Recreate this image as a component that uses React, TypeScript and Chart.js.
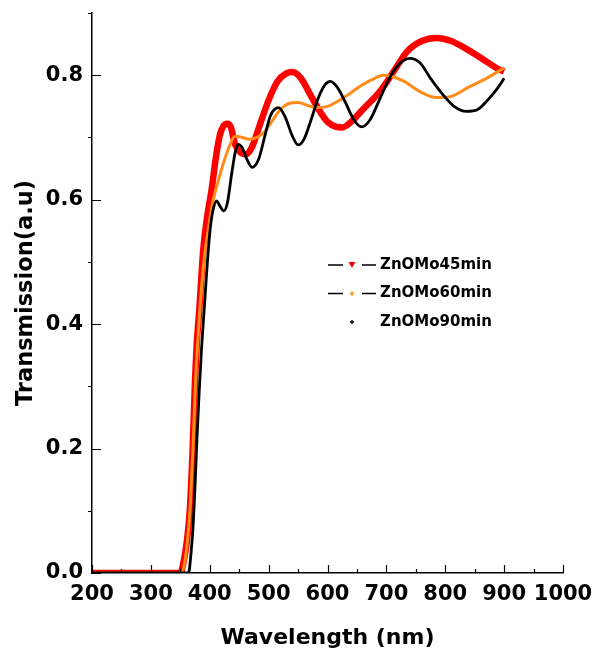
import React, { useEffect, useRef } from "react";
import { Chart, registerables } from "chart.js";

Chart.register(...registerables);

// ---- data ----
const SERIES_NAMES = ["ZnOMo45min", "ZnOMo60min", "ZnOMo90min"];

const red45X = [200, 250, 300, 340, 350, 356, 361, 366, 371, 375, 378, 382, 389, 396, 403, 410, 417, 423, 430, 436, 443, 452, 462, 472, 485, 500, 515, 530, 540, 555, 570, 585, 600, 615, 625, 640, 660, 690, 715, 735, 760, 785, 810, 840, 865, 890, 900];
const red45Y = [0, 0, 0, 0, 0, 0.02, 0.05, 0.10, 0.20, 0.31, 0.37, 0.42, 0.52, 0.575, 0.615, 0.665, 0.703, 0.718, 0.722, 0.716, 0.689, 0.676, 0.673, 0.685, 0.72, 0.76, 0.79, 0.803, 0.805, 0.795, 0.77, 0.745, 0.725, 0.717, 0.716, 0.725, 0.745, 0.775, 0.81, 0.838, 0.855, 0.86, 0.855, 0.84, 0.825, 0.81, 0.806];

const orange60X = [200, 250, 300, 345, 352, 358, 363, 367, 372, 376, 383, 390, 398, 406, 415, 423, 433, 443, 455, 467, 480, 492, 505, 520, 536, 550, 565, 581, 600, 621, 640, 660, 680, 695, 710, 730, 760, 785, 810, 842, 870, 900];
const orange60Y = [0, 0, 0, 0, 0, 0.02, 0.06, 0.11, 0.21, 0.31, 0.42, 0.50, 0.555, 0.60, 0.632, 0.658, 0.685, 0.702, 0.70, 0.697, 0.70, 0.708, 0.725, 0.745, 0.755, 0.756, 0.752, 0.748, 0.75, 0.76, 0.772, 0.785, 0.795, 0.80, 0.798, 0.79, 0.772, 0.764, 0.766, 0.782, 0.795, 0.812];

const black90X = [200, 250, 300, 355, 364, 368, 372, 375, 378, 382, 386, 391, 396, 401, 406, 412, 417, 424, 430, 437, 443, 448, 455, 463, 472, 483, 493, 503, 510, 517, 528, 540, 550, 560, 572, 585, 596, 605, 617, 630, 645, 658, 672, 688, 705, 722, 740, 757, 775, 795, 815, 836, 855, 872, 888, 900];
const black90Y = [0, 0, 0, 0, 0, 0.03, 0.08, 0.14, 0.21, 0.29, 0.36, 0.43, 0.50, 0.555, 0.585, 0.598, 0.59, 0.582, 0.595, 0.64, 0.675, 0.689, 0.684, 0.665, 0.652, 0.665, 0.70, 0.735, 0.745, 0.748, 0.733, 0.703, 0.688, 0.697, 0.728, 0.765, 0.785, 0.79, 0.78, 0.757, 0.728, 0.717, 0.728, 0.76, 0.795, 0.818, 0.827, 0.82, 0.795, 0.77, 0.75, 0.742, 0.745, 0.76, 0.778, 0.795];

const X_MIN = 200;
const X_MAX = 1000;
const X_STEP = 100;
const Y_MIN = 0;
const Y_MAX = 0.9;
const Y_STEP = 0.2;

const FONT = '"DejaVu Sans", Verdana, sans-serif';

function toPoints(xs: number[], ys: number[]) {
  return xs.map((x, i) => ({ x, y: ys[i] }));
}

// inward/outward tick marks like the original plotting software
const tickPlugin = {
  id: "originTicks",
  afterDraw(chart: any) {
    const ctx = chart.ctx;
    const xs = chart.scales.x;
    const ys = chart.scales.y;
    const { left, bottom } = chart.chartArea;
    ctx.save();
    ctx.strokeStyle = "#000";
    ctx.lineWidth = 1.2;
    ctx.beginPath();
    for (let v = X_MIN; v <= X_MAX; v += 50) {
      const px = Math.round(xs.getPixelForValue(v)) + 0.5;
      const len = v % 100 === 0 ? 8 : 4;
      ctx.moveTo(px, bottom);
      ctx.lineTo(px, bottom - len);
    }
    for (let k = 0; k <= 9; k++) {
      const v = k / 10;
      const py = Math.round(ys.getPixelForValue(v)) + 0.5;
      if (k % 2 === 0) {
        ctx.moveTo(left, py);
        ctx.lineTo(left + 9, py);
      } else {
        ctx.moveTo(left, py);
        ctx.lineTo(left - 4, py);
      }
    }
    ctx.stroke();
    ctx.restore();
  },
};

const legendPlugin = {
  id: "customLegend",
  afterDraw(chart: any) {
    const ctx = chart.ctx;
    const rowsY = [265, 293.5, 322];
    const markerX = 352;
    const textX = 380;
    ctx.save();
    ctx.font = `bold 15px ${FONT}`;
    ctx.textBaseline = "middle";
    ctx.textAlign = "left";
    SERIES_NAMES.forEach((name, i) => {
      const y = rowsY[i];
      if (i < 2) {
        ctx.strokeStyle = "#000";
        ctx.lineWidth = 1.5;
        ctx.beginPath();
        ctx.moveTo(328, y);
        ctx.lineTo(343, y);
        ctx.moveTo(362, y);
        ctx.lineTo(376, y);
        ctx.stroke();
      }
      if (i === 0) {
        ctx.fillStyle = "#ff0000";
        ctx.beginPath();
        ctx.moveTo(markerX - 3.5, y - 3);
        ctx.lineTo(markerX + 3.5, y - 3);
        ctx.lineTo(markerX, y + 3);
        ctx.closePath();
        ctx.fill();
      } else if (i === 1) {
        ctx.strokeStyle = "#ff9a1e";
        ctx.lineWidth = 1.5;
        ctx.beginPath();
        ctx.moveTo(markerX - 2.5, y);
        ctx.lineTo(markerX + 2.5, y);
        ctx.moveTo(markerX, y - 2.5);
        ctx.lineTo(markerX, y + 2.5);
        ctx.stroke();
      } else {
        ctx.strokeStyle = "#000";
        ctx.lineWidth = 1.3;
        ctx.beginPath();
        ctx.moveTo(markerX - 2, y);
        ctx.lineTo(markerX + 2, y);
        ctx.moveTo(markerX, y - 2);
        ctx.lineTo(markerX, y + 2);
        ctx.stroke();
      }
      ctx.fillStyle = "#000";
      ctx.fillText(name, textX, y);
    });
    ctx.restore();
  },
};

export default function App() {
  const ref = useRef<HTMLCanvasElement>(null);

  useEffect(() => {
    const canvas = ref.current;
    if (!canvas) return;
    Chart.defaults.font.family = FONT;
    const chart = new Chart(canvas, {
      type: "line",
      data: {
        datasets: [
          {
            label: SERIES_NAMES[2],
            data: toPoints(black90X, black90Y),
            borderColor: "#000000",
            borderWidth: 2.8,
            pointRadius: 0,
            cubicInterpolationMode: "monotone",
            order: 0,
          },
          {
            label: SERIES_NAMES[1],
            data: toPoints(orange60X, orange60Y),
            borderColor: "#ff8c1a",
            borderWidth: 3,
            pointRadius: 0,
            cubicInterpolationMode: "monotone",
            order: 1,
          },
          {
            label: SERIES_NAMES[0],
            data: toPoints(red45X, red45Y),
            borderColor: "#ff0000",
            borderWidth: 6.5,
            pointRadius: 0,
            cubicInterpolationMode: "monotone",
            order: 2,
          },
        ],
      },
      options: {
        responsive: false,
        animation: false,
        devicePixelRatio: 1,
        layout: { padding: { top: 13, right: 41, left: 0, bottom: 0 } },
        plugins: {
          legend: { display: false },
          tooltip: { enabled: false },
        },
        scales: {
          x: {
            type: "linear",
            min: X_MIN,
            max: X_MAX,
            grid: { display: false, drawTicks: false },
            border: { display: true, color: "#000", width: 1.5 },
            ticks: {
              stepSize: X_STEP,
              color: "#000",
              padding: 9,
              maxRotation: 0,
              autoSkip: false,
              font: { size: 21, weight: "bold", family: FONT },
              callback: (v: any) => String(v),
            },
            title: {
              display: true,
              text: "Wavelength (nm)",
              color: "#000",
              font: { size: 22, weight: "bold", family: FONT },
              padding: { top: 2, bottom: 2 },
            },
            afterFit: (scale: any) => {
              scale.height = 80;
              scale.paddingLeft = 0;
              scale.paddingRight = 0;
            },
          },
          y: {
            type: "linear",
            min: Y_MIN,
            max: Y_MAX,
            grid: { display: false, drawTicks: false },
            border: { display: true, color: "#000", width: 1.5 },
            ticks: {
              stepSize: Y_STEP,
              includeBounds: false,
              color: "#000",
              padding: 9,
              font: { size: 21, weight: "bold", family: FONT },
              callback: (v: any) => Number(v).toFixed(1),
            },
            title: {
              display: true,
              text: "Transmission(a.u)",
              color: "#000",
              font: { size: 22.5, weight: "bold", family: FONT },
              padding: { top: 13, bottom: 2 },
            },
            afterFit: (scale: any) => {
              scale.width = 92;
              scale.paddingTop = 0;
              scale.paddingBottom = 0;
            },
          },
        },
      },
      plugins: [tickPlugin, legendPlugin],
    } as any);
    return () => chart.destroy();
  }, []);

  return (
    <div style={{ position: "fixed", left: 0, top: 0, width: 604, height: 653, background: "#fff" }}>
      <canvas ref={ref} width={604} height={653} style={{ display: "block", width: 604, height: 653 }} />
    </div>
  );
}
